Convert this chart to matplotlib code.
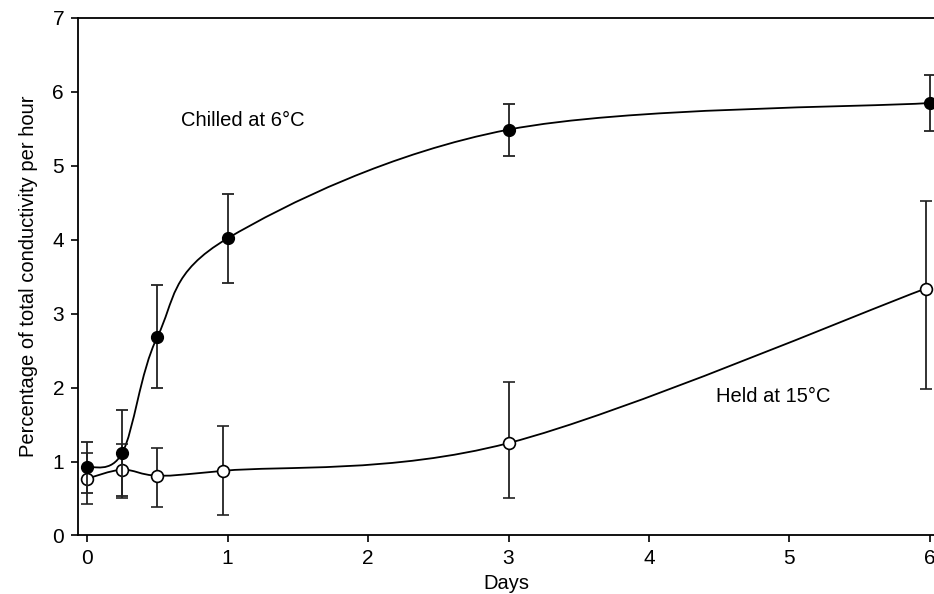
import numpy as np
import matplotlib
matplotlib.use('Agg')
import matplotlib.pyplot as plt
from matplotlib.path import Path
from matplotlib.patches import PathPatch

plt.rcParams['font.family'] = ['Liberation Sans', 'DejaVu Sans']

# chilled at 6 C (filled circles)
chilled_days = [0, 0.25, 0.5, 1, 3, 6]
chilled_val = [0.92, 1.12, 2.69, 4.02, 5.49, 5.85]
chilled_err = [0.35, 0.58, 0.70, 0.60, 0.35, 0.38]

# held at 15 C (open circles)
held_days = [0, 0.25, 0.5, 0.97, 3, 5.97]
held_val = [0.77, 0.89, 0.81, 0.875, 1.25, 3.34]
held_err_lo = [0.35, 0.38, 0.42, 0.60, 0.74, 1.36]
held_err_hi = [0.35, 0.35, 0.38, 0.60, 0.82, 1.18]


def smooth_path(x, y):
    # spreadsheet-style smoothed line: cubic Bezier pieces through the points
    p = np.column_stack([x, y]).astype(float)
    ext = np.vstack([p[0], p, p[-1]])
    verts = [p[0]]
    codes = [Path.MOVETO]
    for i in range(len(p) - 1):
        c1 = p[i] + (ext[i + 2] - ext[i]) / 6
        c2 = p[i + 1] - (ext[i + 3] - ext[i + 1]) / 6
        verts += [c1, c2, p[i + 1]]
        codes += [Path.CURVE4] * 3
    return Path(verts, codes)


fig = plt.figure(figsize=(9.34, 5.94), dpi=100)
ax = fig.add_axes([0.0835, 0.0985, 0.9165, 0.8712])

for xv, yv in [(chilled_days, chilled_val), (held_days, held_val)]:
    ax.add_patch(PathPatch(smooth_path(xv, yv), fc='none', ec='black', lw=1.3, zorder=2))

ax.errorbar(held_days, held_val, yerr=[held_err_lo, held_err_hi], fmt='o',
            color='black', mfc='white', mec='black', ms=8.5, mew=1.2,
            ecolor='#222222', elinewidth=1.3, capsize=4.5, capthick=1.3, zorder=3)
ax.errorbar(chilled_days, chilled_val, yerr=chilled_err, fmt='o',
            color='black', mfc='black', mec='black', ms=8.5,
            ecolor='#222222', elinewidth=1.3, capsize=4.5, capthick=1.3, zorder=4)

ax.text(0.67, 5.62, 'Chilled at 6°C', fontsize=14.5, va='center', ha='left')
ax.text(4.48, 1.88, 'Held at 15°C', fontsize=14.5, va='center', ha='left')

ax.set_xlim(-0.066, 6.03)
ax.set_ylim(0, 7)
ax.set_xticks([0, 1, 2, 3, 4, 5, 6])
ax.set_yticks([0, 1, 2, 3, 4, 5, 6, 7])
ax.set_xlabel('Days', fontsize=14.5, labelpad=4)
ax.set_ylabel('Percentage of total conductivity per hour', fontsize=14.5, labelpad=10)
ax.spines['right'].set_visible(False)
for s in ['left', 'bottom', 'top']:
    ax.spines[s].set_linewidth(1.3)
ax.tick_params(direction='out', length=5, width=1.2, labelsize=15, pad=5)

fig.savefig('out.png', dpi=100)
